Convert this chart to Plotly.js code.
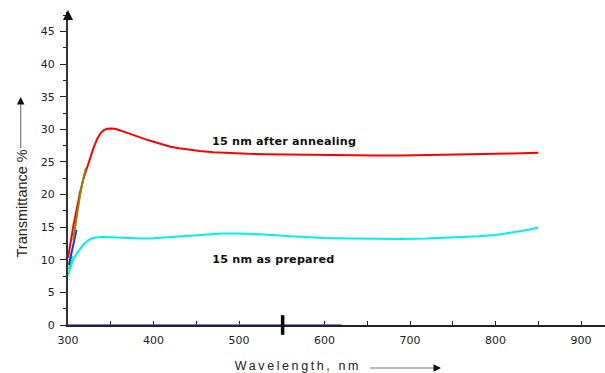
<!DOCTYPE html>
<html>
<head>
<meta charset="utf-8">
<script src="https://cdn.plot.ly/plotly-3.0.1.min.js"></script>
<style>html,body{margin:0;padding:0;background:#fff;}#chart{width:605px;height:373px;}</style>
</head>
<body>
<div id="chart"></div>
<script>
// ---- data ----
const annealedWl = [300, 302, 304, 306, 310, 314, 318, 322, 326, 330, 334, 338, 342, 346, 351, 356, 362, 370, 380, 390, 400, 410, 420, 430, 440, 454, 470, 490, 510, 530, 550, 570, 600, 630, 660, 690, 720, 750, 780, 800, 820, 850];
const annealedT  = [10.3, 11.6, 13.4, 15.0, 17.8, 20.3, 22.4, 24.1, 25.6, 27.2, 28.5, 29.4, 29.9, 30.1, 30.15, 30.05, 29.8, 29.4, 28.9, 28.5, 28.1, 27.7, 27.35, 27.1, 26.9, 26.7, 26.5, 26.35, 26.25, 26.2, 26.15, 26.1, 26.05, 26.0, 25.98, 26.0, 26.05, 26.1, 26.15, 26.25, 26.3, 26.4];

const preparedWl = [300, 302, 304, 306, 310, 314, 318, 322, 326, 330, 335, 340, 345, 355, 365, 375, 385, 400, 420, 440, 460, 480, 500, 520, 540, 560, 580, 600, 630, 660, 690, 720, 750, 780, 800, 815, 830, 840, 850];
const preparedT  = [7.6, 8.4, 9.3, 10.0, 10.9, 11.6, 12.3, 12.8, 13.15, 13.35, 13.5, 13.55, 13.5, 13.42, 13.35, 13.28, 13.25, 13.3, 13.5, 13.75, 13.95, 14.05, 14.05, 13.95, 13.8, 13.6, 13.45, 13.35, 13.25, 13.2, 13.2, 13.25, 13.4, 13.6, 13.8, 14.05, 14.4, 14.65, 14.95];

// short overlapping segments near the start
const blueWl  = [301, 304, 307, 310];
const blueT   = [9.2, 11.0, 13.0, 14.6];
const oliveWl = [306, 310, 314, 318, 321];
const oliveT  = [13.0, 16.5, 19.8, 22.5, 24.1];
const greenWl = [301, 303, 305];
const greenT  = [8.6, 9.6, 10.6];

const baselineWl = [300, 620];
const baselineT  = [0, 0];
const markWl = [551];
const markT  = [0];

const xTickVals = [300, 400, 500, 600, 700, 800, 900];
const yTickVals = [0, 5, 10, 15, 20, 25, 30, 35, 40, 45];

const labelAnnealed = "15 nm after annealing";
const labelPrepared = "15 nm as prepared";
const labelAnnealedPos = [468, 28.1];
const labelPreparedPos = [468, 10.0];

// ---- chart ----
const tickFont = {family: "DejaVu Sans, Liberation Sans, Arial", size: 11, color: "#222"};
const traces = [
  {x: baselineWl, y: baselineT, mode: "lines", line: {color: "#7b3fd0", width: 1.5}, hoverinfo: "skip"},
  {x: preparedWl, y: preparedT, mode: "lines", line: {color: "#00f0f0", width: 2}},
  {x: greenWl, y: greenT, mode: "lines", line: {color: "#33ee44", width: 2}},
  {x: annealedWl, y: annealedT, mode: "lines", line: {color: "#ff0000", width: 2}},
  {x: blueWl, y: blueT, mode: "lines", line: {color: "#1030ff", width: 2}},
  {x: oliveWl, y: oliveT, mode: "lines", line: {color: "#8a8a10", width: 2}},
  {x: markWl, y: markT, mode: "markers", cliponaxis: false,
   marker: {symbol: "line-ns", size: 14, line: {color: "#000", width: 3.5}}}
];

const layout = {
  width: 605, height: 373,
  margin: {l: 68, r: 0, t: 12, b: 48, pad: 0},
  paper_bgcolor: "#fff", plot_bgcolor: "#fff",
  showlegend: false,
  xaxis: {
    range: [300, 928], tickvals: xTickVals, ticktext: xTickVals.map(String),
    showgrid: false, zeroline: false,
    showline: true, linecolor: "#222", linewidth: 1.5, layer: "below traces",
    ticks: "inside", ticklen: 4, tickwidth: 1, tickcolor: "#222",
    minor: {dtick: 50, ticks: "inside", ticklen: 4, tickwidth: 1, tickcolor: "#222", showgrid: false},
    tickfont: tickFont, ticklabelstandoff: 4
  },
  yaxis: {
    range: [0, 48], tickvals: yTickVals, ticktext: yTickVals.map(String),
    showgrid: false, zeroline: false,
    showline: true, linecolor: "#333", linewidth: 2, layer: "below traces",
    ticks: "outside", ticklen: 6, tickwidth: 1, tickcolor: "#222",
    minor: {dtick: 2.5, ticks: "outside", ticklen: 3, tickwidth: 1, tickcolor: "#222", showgrid: false},
    tickfont: tickFont, ticklabelstandoff: 3
  },
  shapes: [
    {type: "line", xref: "paper", yref: "paper", x0: (20.7-68)/537, x1: (20.7-68)/537, y0: (325-148)/313, y1: (325-102)/313, line: {color: "#777", width: 1.2}},
    {type: "line", xref: "paper", yref: "paper", x0: (370-68)/537, x1: (436-68)/537, y0: (325-368)/313, y1: (325-368)/313, line: {color: "#777", width: 1.2}}
  ],
  annotations: [
    {text: labelAnnealed, x: labelAnnealedPos[0], y: labelAnnealedPos[1], xref: "x", yref: "y", xanchor: "left", yanchor: "middle", showarrow: false,
     font: {family: "DejaVu Sans, Arial", size: 11.2, color: "#111", weight: "bold"}},
    {text: labelPrepared, x: labelPreparedPos[0], y: labelPreparedPos[1], xref: "x", yref: "y", xanchor: "left", yanchor: "middle", showarrow: false,
     font: {family: "DejaVu Sans, Arial", size: 11.2, color: "#111", weight: "bold"}},
    {text: "Transmittance %", textangle: -90, xref: "paper", yref: "paper", x: (21.5-68)/537, y: (325-204)/313, xanchor: "center", yanchor: "middle", showarrow: false,
     font: {family: "Liberation Sans, Arial", size: 14.5, color: "#222"}},
    {text: "Wavelength, nm", xref: "paper", yref: "paper", x: (297.5-68)/537, y: (325-366)/313, xanchor: "center", yanchor: "middle", showarrow: false,
     font: {family: "Liberation Sans, Arial", size: 12.5, color: "#222"}},
    // arrowheads
    {text: "", xref: "paper", yref: "paper", x: (20.7-68)/537, y: (325-97)/313, ax: 0, ay: 8, showarrow: true, arrowhead: 2, arrowsize: 1, arrowwidth: 1.5, arrowcolor: "#111"},
    {text: "", xref: "paper", yref: "paper", x: (441-68)/537, y: (325-368)/313, ax: -8, ay: 0, showarrow: true, arrowhead: 2, arrowsize: 1, arrowwidth: 1.5, arrowcolor: "#111"},
    {text: "", xref: "paper", yref: "paper", x: 0, y: (325-10)/313, ax: 0, ay: 8, showarrow: true, arrowhead: 2, arrowsize: 1, arrowwidth: 2, arrowcolor: "#111"}
  ]
};

Plotly.newPlot("chart", traces, layout, {staticPlot: true, displayModeBar: false}).then(function(){
  document.querySelectorAll(".annotation-text").forEach(function(t){
    if (t.textContent === "Wavelength, nm") t.style.letterSpacing = "2.6px";
    if (t.textContent === labelAnnealed || t.textContent === labelPrepared) t.style.letterSpacing = "0.2px";
  });
});
</script>
</body>
</html>
